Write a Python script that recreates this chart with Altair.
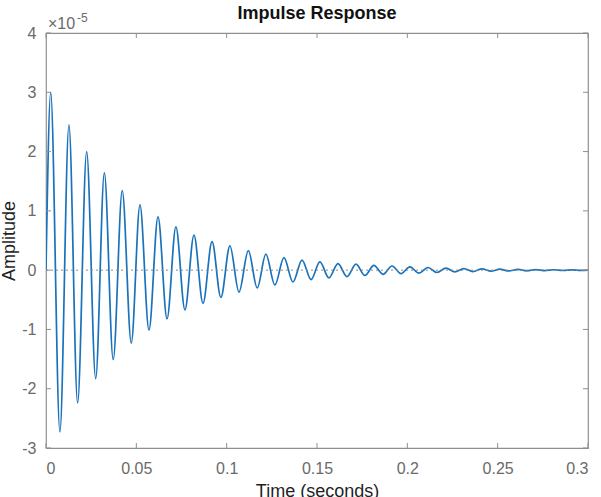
import altair as alt
import pandas as pd

# Impulse response: successive peaks/troughs of the decaying oscillation.
# Amplitude is stored in units of 1e-5 (the axis multiplier).
time_s = [
    0.0,
    0.0026, 0.0077, 0.0127, 0.0175, 0.0225, 0.0275, 0.0323, 0.0372, 0.0422, 0.0472,
    0.0520, 0.0570, 0.0620, 0.0670, 0.0719, 0.0769, 0.0819, 0.0869, 0.0919, 0.0968,
    0.1018, 0.1068, 0.1120, 0.1169, 0.1217, 0.1267, 0.1317, 0.1367, 0.1417, 0.1467,
    0.1516, 0.1566, 0.1616, 0.1666, 0.1716, 0.1765, 0.1815, 0.1865, 0.1915, 0.1965,
    0.2014, 0.2064, 0.2114, 0.2164, 0.2214, 0.2263, 0.2313, 0.2363, 0.2413, 0.2463,
    0.2512, 0.2562, 0.2612, 0.2662, 0.2712, 0.2761, 0.2811, 0.2861, 0.2911, 0.2961,
    0.3,
]
amplitude = [
    0.0,
    3.00, -2.73, 2.45, -2.24, 2.00, -1.83, 1.64, -1.51, 1.34, -1.23,
    1.10, -1.01, 0.90, -0.82, 0.73, -0.67, 0.59, -0.56, 0.48, -0.46,
    0.41, -0.37, 0.33, -0.30, 0.27, -0.25, 0.21, -0.20, 0.17, -0.16,
    0.14, -0.13, 0.11, -0.11, 0.10, -0.09, 0.08, -0.07, 0.07, -0.06,
    0.055, -0.05, 0.045, -0.04, 0.035, -0.03, 0.027, -0.024, 0.021, -0.018,
    0.016, -0.014, 0.012, -0.011, 0.009, -0.008, 0.007, -0.006, 0.005, -0.005,
    0.0,
]

x_ticks = [0, 0.05, 0.1, 0.15, 0.2, 0.25, 0.3]
y_ticks = [-3, -2, -1, 0, 1, 2, 3, 4]

W, H = 542, 415
FONT = "Liberation Sans"
BOX = "#8f8f8f"
LABEL = "#6a6a6a"
TEXT = "#1f1f1f"
TICK_LEN = 5

resp = pd.DataFrame({"t": time_s, "a": amplitude})
xt = pd.DataFrame({"t": x_ticks})
yt = pd.DataFrame({"a": y_ticks})
zero = pd.DataFrame({"a": [0]})

xs = alt.Scale(domain=[0, 0.3], nice=False, zero=False)
ys = alt.Scale(domain=[-3, 4], nice=False, zero=False)

x_axis = alt.Axis(
    values=x_ticks, labelExpr="'' + datum.value", domain=False, ticks=False,
    tickSize=0, grid=False, labelPadding=25, labelBaseline="alphabetic",
    labelFont=FONT, labelFontSize=16, labelColor=LABEL,
    title="Time (seconds)", titleFont=FONT, titleFontSize=18,
    titleFontWeight="normal", titleColor=TEXT,
    titleX=W / 2, titleY=48, titleBaseline="alphabetic", titleAlign="center",
)
y_axis = alt.Axis(
    values=y_ticks, labelExpr="'' + datum.value", domain=False, ticks=False,
    tickSize=0, grid=False, labelPadding=10, labelBaseline="middle",
    labelFont=FONT, labelFontSize=16, labelColor=LABEL,
    title="Amplitude", titleFont=FONT, titleFontSize=18,
    titleFontWeight="normal", titleColor=TEXT, titleAngle=-90,
    titleX=-32, titleY=H / 2, titleBaseline="alphabetic", titleAlign="center",
)
X = alt.X("t:Q", scale=xs, axis=x_axis)
Y = alt.Y("a:Q", scale=ys, axis=y_axis)

# response curve
curve = alt.Chart(resp).mark_line(
    interpolate="monotone", color="#1a72bb", strokeWidth=1.7, clip=True
).encode(x=X, y=Y)

# dotted zero reference line
zero_line = alt.Chart(zero).mark_rule(
    color="#8a8a8a", strokeWidth=1, strokeDash=[2, 3]
).encode(y=Y)

# inward tick marks on all four sides of the box
tick_style = dict(color=BOX, strokeWidth=1)
bottom_ticks = alt.Chart(xt).mark_rule(**tick_style).encode(
    x=X, y=alt.value(H), y2=alt.value(H - TICK_LEN)
)
top_ticks = alt.Chart(xt).mark_rule(**tick_style).encode(
    x=X, y=alt.value(0), y2=alt.value(TICK_LEN)
)
left_ticks = alt.Chart(yt).mark_rule(**tick_style).encode(
    y=Y, x=alt.value(0), x2=alt.value(TICK_LEN)
)
right_ticks = alt.Chart(yt).mark_rule(**tick_style).encode(
    y=Y, x=alt.value(W), x2=alt.value(W - TICK_LEN)
)

# chart title and the axis multiplier "x10^-5"
title = alt.Chart(pd.DataFrame({"s": ["Impulse Response"]})).mark_text(
    align="center", baseline="alphabetic", font=FONT, fontSize=18,
    fontWeight="bold", color="#111111"
).encode(x=alt.value(W / 2), y=alt.value(-14), text="s:N")
mult = alt.Chart(pd.DataFrame({"s": ["\u00d710"]})).mark_text(
    align="left", baseline="alphabetic", font=FONT, fontSize=16, color=LABEL
).encode(x=alt.value(2), y=alt.value(-4), text="s:N")
mult_exp = alt.Chart(pd.DataFrame({"s": ["-5"]})).mark_text(
    align="left", baseline="alphabetic", font=FONT, fontSize=12, color=LABEL
).encode(x=alt.value(31), y=alt.value(-11), text="s:N")

chart = alt.layer(
    curve, zero_line, bottom_ticks, top_ticks, left_ticks, right_ticks,
    title, mult, mult_exp
).properties(
    width=W,
    height=H,
    autosize=alt.AutoSizeParams(type="none"),
    padding={"left": 46, "top": 33, "right": 13, "bottom": 49},
).configure_view(stroke=BOX, strokeWidth=1.2)

chart.save("out.html", embed_options={"renderer": "svg", "actions": False})
